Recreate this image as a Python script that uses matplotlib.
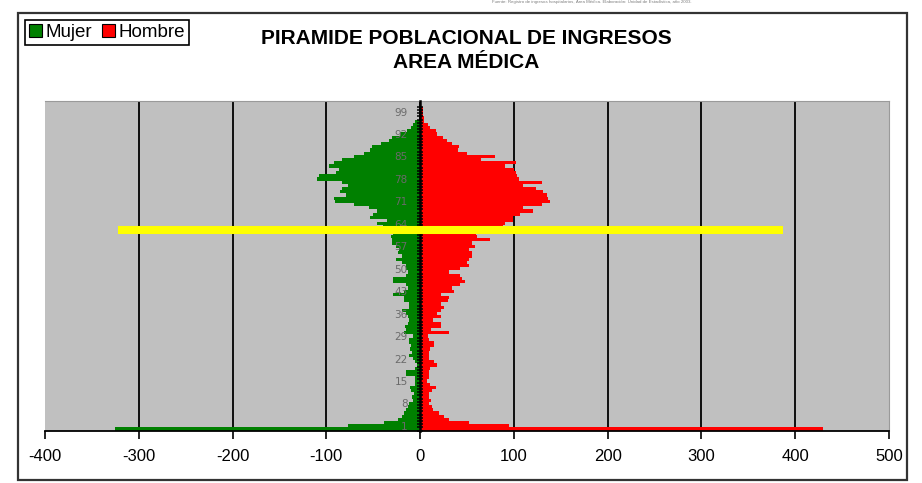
import matplotlib
matplotlib.use("Agg")
import matplotlib.pyplot as plt
from matplotlib.patches import Patch, Rectangle
from matplotlib.ticker import FixedLocator

# Edades de ingreso (0 a 100 años)
edades = list(range(0, 101))

# Número de ingresos por edad, mujeres
mujer = [325, 77, 39, 24, 19, 17, 15, 13, 12, 8,
         9, 7, 10, 11, 5, 5, 5, 15, 15, 5,
         3, 5, 8, 12, 9, 11, 10, 12, 12, 8,
         17, 15, 16, 13, 12, 13, 15, 19, 12, 12,
         17, 17, 29, 17, 13, 15, 29, 29, 15, 13,
         15, 15, 19, 26, 19, 24, 22, 26, 30, 30,
         31, 29, 33, 40, 46, 35, 53, 50, 46, 55,
         70, 91, 92, 79, 85, 83, 77, 83, 110, 108,
         90, 86, 97, 92, 83, 70, 60, 53, 51, 42,
         33, 30, 21, 14, 10, 8, 5, 0, 0, 0,
         0]

# Número de ingresos por edad, hombres
hombre = [430, 95, 52, 31, 25, 20, 14, 13, 10, 12,
          10, 10, 13, 17, 11, 7, 10, 9, 10, 11,
          18, 15, 10, 10, 9, 11, 15, 15, 10, 8,
          31, 12, 22, 22, 14, 22, 18, 22, 26, 22,
          30, 31, 22, 36, 34, 43, 48, 45, 43, 31,
          43, 52, 50, 52, 55, 55, 52, 58, 55, 74,
          61, 60, 75, 88, 90, 99, 99, 106, 120, 110,
          130, 138, 136, 135, 131, 124, 110, 130, 105, 103,
          102, 100, 90, 102, 65, 80, 50, 40, 42, 34,
          29, 24, 18, 17, 11, 8, 4, 4, 3, 3,
          3]

etiquetas_edad = list(range(1, 100, 7))
valores_x = list(range(-400, 501, 100))

linea_edad = 62.1
linea_desde = -322
linea_hasta = 387

titulo_1 = "PIRAMIDE POBLACIONAL DE INGRESOS"
titulo_2 = "AREA MÉDICA"
fuente = "Fuente: Registro de ingresos hospitalarios, Área Médica. Elaboración: Unidad de Estadística, año 2003."

plt.rcParams['axes.unicode_minus'] = False
plt.rcParams['font.family'] = ['Liberation Sans', 'DejaVu Sans']

W, H = 922, 483
fig = plt.figure(figsize=(W / 100, H / 100), dpi=100)
fig.patch.set_facecolor('white')

# marco exterior del gráfico
fig.add_artist(Rectangle((18 / W, 1 - 480 / H), (907 - 18) / W, (480 - 13) / H,
                         transform=fig.transFigure, fill=False,
                         edgecolor='#333333', linewidth=1.6))

ax = fig.add_axes([45 / W, 1 - 431 / H, 844 / W, 330 / H])
ax.set_facecolor('#C0C0C0')

ax.barh(edades, [-v for v in mujer], height=1.0, color='#008000',
        linewidth=0, zorder=2)
ax.barh(edades, hombre, height=1.0, color='#FF0000', linewidth=0, zorder=2)

ax.set_xlim(valores_x[0], valores_x[-1])
ax.set_ylim(-0.6, 102.3)

# líneas de división verticales
ax.vlines(valores_x[1:-1], -0.6, 102.3, colors='black', linewidth=1.3, zorder=1)

ax.set_xticks(valores_x)
ax.tick_params(axis='x', direction='out', length=6, width=1.2, labelsize=12,
               pad=7, color='black')

# eje de categorías (edades) en el cero
ax.spines['left'].set_position(('data', 0))
ax.spines['left'].set_linewidth(1.8)
ax.spines['left'].set_zorder(4)
ax.spines['bottom'].set_linewidth(1.3)
ax.spines['top'].set_color('#9a9a9a')
ax.spines['right'].set_color('#9a9a9a')
ax.spines['top'].set_linewidth(0.8)
ax.spines['right'].set_linewidth(0.8)

ax.yaxis.set_major_locator(FixedLocator(etiquetas_edad))
ax.yaxis.set_minor_locator(FixedLocator([e - 0.5 for e in edades] + [edades[-1] + 0.5]))
ax.set_yticklabels([str(e) for e in etiquetas_edad])
ax.tick_params(axis='y', which='major', direction='inout', length=0,
               labelsize=7.5, labelcolor='#6a6a6a', pad=9)
ax.tick_params(axis='y', which='minor', direction='inout', length=5, width=1.1,
               color='black')
for t in ax.get_yticklabels():
    t.set_family('DejaVu Sans')
ax.yaxis.set_zorder(4)

# línea de referencia
ax.plot([linea_desde, linea_hasta], [linea_edad, linea_edad], color='#FFFF00',
        linewidth=5.8, solid_capstyle='butt', zorder=6)

# leyenda
handles = [Patch(facecolor='#008000', edgecolor='black', linewidth=0.8),
           Patch(facecolor='#FF0000', edgecolor='black', linewidth=0.8)]
leg = fig.legend(handles, ['Mujer', 'Hombre'], loc='upper left',
                 bbox_to_anchor=(25 / W, 1 - 20 / H), ncol=2, fontsize=13.5,
                 frameon=True, fancybox=False, edgecolor='black', framealpha=1,
                 handlelength=0.7, handleheight=0.7, handletextpad=0.2,
                 columnspacing=0.5, borderpad=0.2, borderaxespad=0)
leg.get_frame().set_linewidth(1.2)

# títulos
fig.text(466 / W, 1 - 38 / H, titulo_1, ha='center', va='center',
         fontsize=15, fontweight='bold')
fig.text(466 / W, 1 - 63 / H, titulo_2, ha='center', va='center',
         fontsize=15, fontweight='bold')
fig.text(592 / W, 1 - 2.5 / H, fuente, ha='center', va='center',
         fontsize=3.2, color='#808080')

fig.savefig('out.png', dpi=100)
